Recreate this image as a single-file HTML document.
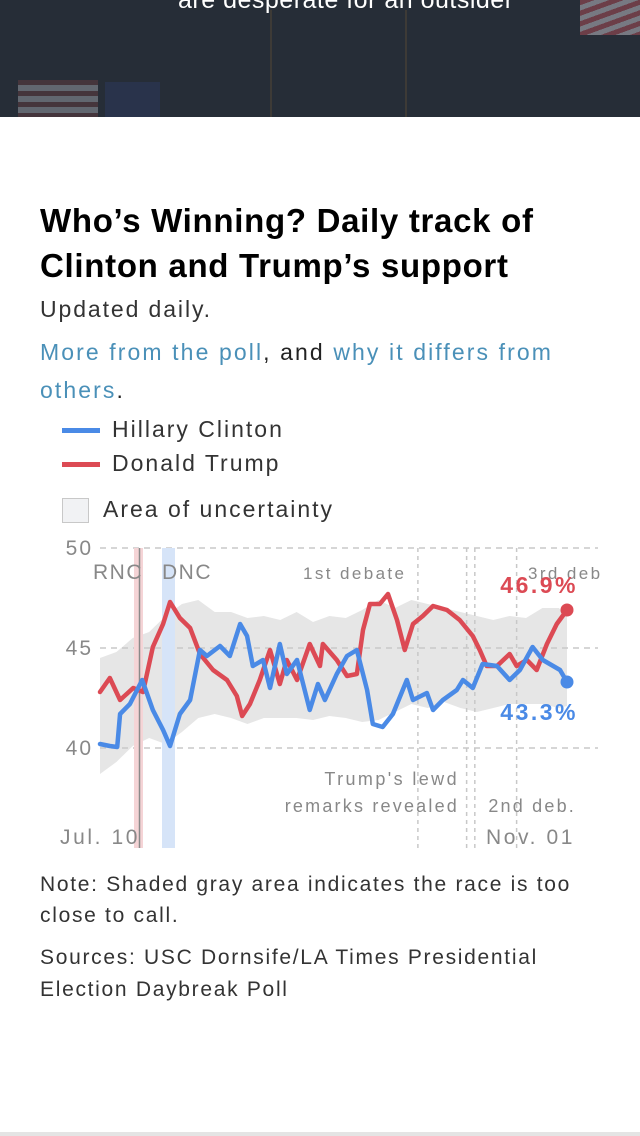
<!DOCTYPE html>
<html><head><meta charset="utf-8">
<style>
*{margin:0;padding:0;box-sizing:border-box}
body{width:640px;height:1136px;background:#fff;font-family:"Liberation Sans",sans-serif;position:relative;overflow:hidden;color:#222}
.hero{position:absolute;left:0;top:0;width:640px;height:117px;background:#262d37;overflow:hidden}
.hero .cap{position:absolute;left:178px;top:-14px;color:#fff;font-size:25px;white-space:nowrap;letter-spacing:0.5px}
.t{position:absolute;white-space:nowrap}
a{color:#4a90b8;text-decoration:none}
</style></head>
<body>
<div class="hero">
  <div style="position:absolute;left:18px;top:80px;width:80px;height:37px;background:repeating-linear-gradient(#5a3a40 0 5px,#8a8e96 5px 11px);opacity:.6"></div>
  <div style="position:absolute;left:105px;top:82px;width:55px;height:35px;background:#2a3550;opacity:.8"></div>
  <div style="position:absolute;left:270px;top:10px;width:2px;height:107px;background:#3d3a36"></div>
  <div style="position:absolute;left:405px;top:10px;width:2px;height:107px;background:#3d3a36"></div>
  <div style="position:absolute;left:580px;top:0;width:70px;height:35px;background:repeating-linear-gradient(160deg,#8a4650 0 5px,#9a9aa2 5px 10px);opacity:.7"></div>
  <div class="cap">are desperate for an outsider</div>
</div>

<div class="t" style="left:40px;top:198px;font-size:33px;letter-spacing:0.7px;font-weight:bold;line-height:45px;color:#000">Who’s Winning? Daily track of<br>Clinton and Trump’s support</div>
<div class="t" style="left:40px;top:296px;font-size:23px;letter-spacing:1.9px;color:#333">Updated daily.</div>
<div class="t" style="left:40px;top:333px;font-size:23px;letter-spacing:2.1px;line-height:38px;color:#222"><a href="#">More from the poll</a>, and <a href="#">why it differs from</a><br><a href="#">others</a>.</div>

<div>
  <div style="position:absolute;left:62px;top:428px;width:38px;height:5px;background:#4a8ae6"></div>
  <div class="t" style="left:112px;top:416px;font-size:23px;letter-spacing:2px;color:#333">Hillary Clinton</div>
</div>
<div>
  <div style="position:absolute;left:62px;top:462px;width:38px;height:5px;background:#dc4a54"></div>
  <div class="t" style="left:112px;top:450px;font-size:23px;letter-spacing:2px;color:#333">Donald Trump</div>
</div>
<div>
  <div style="position:absolute;left:62px;top:498px;width:27px;height:25px;background:#f1f2f4;border:1.5px solid #c8c8c8"></div>
  <div class="t" style="left:103px;top:496px;font-size:23px;letter-spacing:2px;color:#333">Area of uncertainty</div>
</div>

<svg id="chart" style="position:absolute;left:0;top:530px" width="640" height="330" viewBox="0 530 640 330"></svg>

<div class="t" style="left:40px;top:869px;font-size:21px;letter-spacing:1.7px;line-height:31px;color:#333">Note: Shaded gray area indicates the race is too<br>close to call.</div>
<div class="t" style="left:40px;top:942px;font-size:21px;letter-spacing:1.7px;line-height:32px;color:#333">Sources: USC Dornsife/LA Times Presidential<br>Election Daybreak Poll</div>
<div style="position:absolute;left:0;top:1132px;width:640px;height:4px;background:#e4e4e4"></div>

<script>
const yTicks=[50,45,40];
const trumpDays=[0,2.4,4.9,8.1,10.5,12.9,15.4,17.1,19.5,22,24.4,27.6,31,33.4,34.7,36.6,39,41.5,43.9,45.6,48.1,51.2,53.7,54.4,57.8,60.3,62.7,64.2,65.9,68.3,70.3,72.5,74.4,76.4,78.8,81.3,84.7,87.8,91,92.7,94.4,96.9,100,101.7,104.2,106.6,109.1,111.5,114];
const trumpVals=[42.8,43.5,42.4,43.0,42.8,45.05,46.2,47.3,46.5,46.0,44.7,43.9,43.4,42.6,41.6,42.2,43.4,44.9,43.2,44.4,43.4,45.2,44.1,45.2,44.4,43.6,43.7,45.9,47.2,47.2,47.7,46.4,44.9,46.2,46.6,47.1,46.9,46.4,45.6,44.9,44.1,44.1,44.7,44.1,44.4,43.9,45.2,46.2,46.9];
const clintonDays=[0,2.4,4.2,4.9,7.3,10.3,12.9,15.4,17.1,19.5,22,24.4,26.1,29.3,31.7,34.2,35.9,37.3,39.8,41.5,43.9,45.6,48.1,51.2,53.2,54.9,57.8,60.3,62.7,65.2,66.6,69,71.5,74.9,76.4,79.8,81.3,83.7,87.1,88.6,91,93.4,96.9,100,102.5,105.6,108.1,112.3,114];
const clintonVals=[40.2,40.1,40.05,41.7,42.2,43.4,41.9,40.9,40.1,41.7,42.4,44.9,44.6,45.1,44.6,46.2,45.6,44.1,44.4,43.0,45.2,43.7,44.4,41.9,43.2,42.4,43.7,44.6,44.9,42.9,41.2,41.05,41.7,43.4,42.4,42.75,41.9,42.4,42.9,43.4,43.0,44.2,44.1,43.4,43.9,45.05,44.4,43.9,43.3];
const bandDays=[0,4,8,12,16,20,24,28,32,36,40,44,48,52,56,60,64,68,72,76,80,84,88,92,96,100,104,108,112,114];
const bandUpper=[44.5,44.8,45.5,45.8,46.6,47.2,47.4,46.8,46.8,46.5,46.6,46.4,46.8,46.3,46.6,46.5,46.9,47.4,47.0,47.4,47.2,47.0,46.8,46.6,46.4,46.6,46.5,47.0,47.0,46.6];
const bandLower=[38.7,39.3,40.1,40.5,40.2,40.8,41.5,41.7,41.5,41.2,41.5,41.5,41.5,41.4,41.6,41.5,41.3,41.4,41.8,42.2,42.0,42.3,42.0,41.8,42.0,42.2,42.2,42.2,42.0,42.1];
const eventNames=["1st debate","lewd","2nd deb.","3rd deb"];
const eventDays=[77.6,89.5,91.5,101.7];

const svg=document.getElementById('chart');
const NS='http://www.w3.org/2000/svg';
const X0=100,X1=567,D1=114;
const xs=d=>X0+(X1-X0)*d/D1;
const ys=v=>548+(50-v)*20;
function mk(tag,attrs){const e=document.createElementNS(NS,tag);for(const k in attrs)e.setAttribute(k,attrs[k]);svg.appendChild(e);return e;}

let bp=bandDays.map((d,i)=>xs(d)+','+ys(bandUpper[i])).join(' ')+' '+bandDays.slice().reverse().map((d,i)=>xs(d)+','+ys(bandLower[bandDays.length-1-i])).join(' ');
const band=mk('polygon',{points:bp,fill:'#e6e6e6'});



yTicks.forEach(t=>{
  const g=mk('line',{x1:100,x2:598,y1:ys(t),y2:ys(t),stroke:'#c8c8c8','stroke-width':1.5,'stroke-dasharray':'6,5'});
  
  
  const l=mk('text',{x:93,y:ys(t)+7,'text-anchor':'end','font-size':21,'letter-spacing':2,fill:'#888','font-family':'Liberation Sans'});
  l.textContent=t;
  
  
});

const rnc=mk('rect',{x:134,y:548,width:9,height:300,fill:'#f5d4d6'});


const rl=mk('line',{x1:139.5,x2:139.5,y1:548,y2:848,stroke:'#8a8a8a','stroke-width':1.5});


const dnc=mk('rect',{x:162,y:548,width:13,height:300,fill:'#d6e4f8'});



eventDays.forEach((d,i)=>{
  const e=mk('line',{x1:xs(d),x2:xs(d),y1:548,y2:848,stroke:'#c8c8c8','stroke-width':1.5,'stroke-dasharray':'4,4'});
  
  
});

function line(days,vals,color,name){
  const p=mk('polyline',{points:days.map((d,i)=>xs(d)+','+ys(vals[i])).join(' '),fill:'none',stroke:color,'stroke-width':4.5,'stroke-linejoin':'round','stroke-linecap':'round'});
  
  
  const n=days.length-1;
  const c=mk('circle',{cx:xs(days[n]),cy:ys(vals[n]),r:6.5,fill:color});
  
  
}
line(trumpDays,trumpVals,'#dc4a54','trump-line');
line(clintonDays,clintonVals,'#4a8ae6','clinton-line');

function txt(x,y,s,size,fill,anchor,name,weight,ls){
  const t=mk('text',{x:x,y:y,'font-size':size,fill:fill,'text-anchor':anchor||'start','font-family':'Liberation Sans','font-weight':weight||'normal','letter-spacing':ls||0});
  t.textContent=s;
  
  
}
txt(93,579,'RNC',21,'#888','start','rnc-label','normal',1.5);
txt(162,579,'DNC',21,'#888','start','dnc-label','normal',1.5);
txt(303,579,'1st debate',17,'#888','start','first-debate-label','normal',2.4);
txt(528,579,'3rd deb',17,'#888','start','third-debate-label','normal',2.4);
txt(578,593,trumpVals[trumpVals.length-1].toFixed(1)+'%',23,'#dc4a54','end','trump-value-label','bold',2.5);
txt(578,720,clintonVals[clintonVals.length-1].toFixed(1)+'%',23,'#4a8ae6','end','clinton-value-label','bold',2.5);
txt(459,785,"Trump's lewd",18,'#888','end','lewd-label-1','normal',2.4);
txt(459,812,'remarks revealed',18,'#888','end','lewd-label-2','normal',2.2);
txt(576,812,'2nd deb.',18,'#888','end','second-debate-label','normal',2.2);
txt(60,844,'Jul. 10',21,'#888','start','x-label-start','normal',2.6);
txt(575,844,'Nov. 01',21,'#888','end','x-label-end','normal',2.6);
</script>
</body></html>
